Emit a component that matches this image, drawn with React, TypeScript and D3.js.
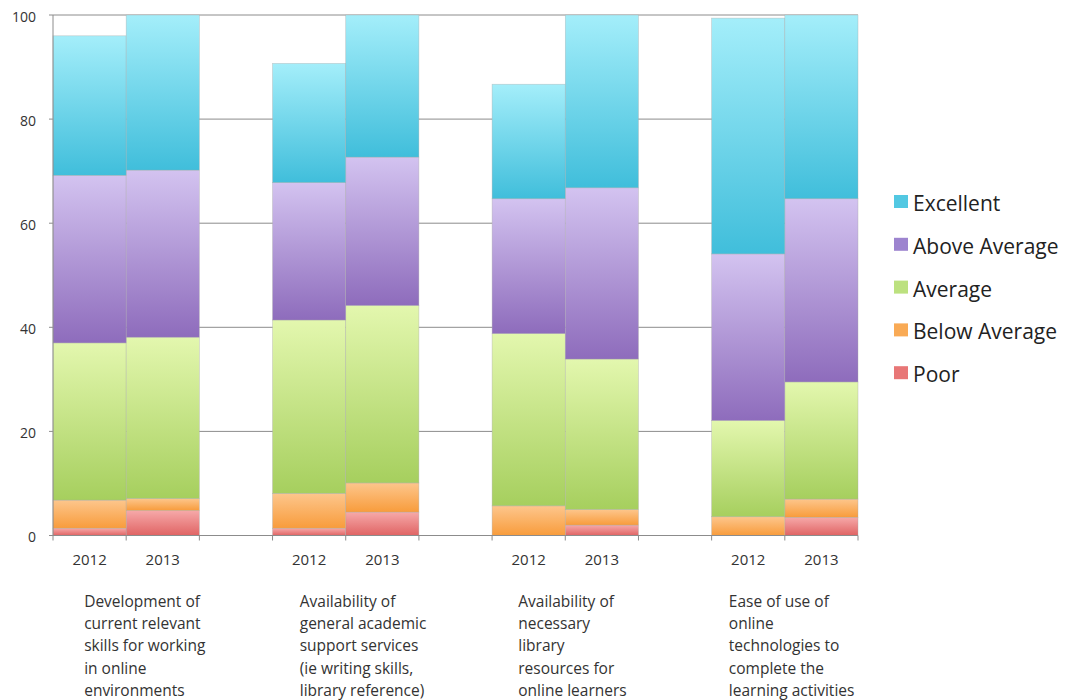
import React from 'react';
import * as d3 from 'd3';

const seriesNames = ['Poor', 'Below Average', 'Average', 'Above Average', 'Excellent'];
const years = ['2012', '2013'];
const groupLabels = [
  ['Development of', 'current relevant', 'skills for working', 'in online', 'environments'],
  ['Availability of', 'general academic', 'support services', '(ie writing skills,', 'library reference)'],
  ['Availability of', 'necessary', 'library', 'resources for', 'online learners'],
  ['Ease of use of', 'online', 'technologies to', 'complete the', 'learning activities'],
];
// bars in order: g1-2012, g1-2013, g2-2012, g2-2013, ...
const poor = [1.4, 4.8, 1.4, 4.5, 0, 2.0, 0, 3.5];
const belowAverage = [5.4, 2.3, 6.7, 5.6, 5.7, 3.0, 3.6, 3.5];
const average = [30.2, 31.0, 33.3, 34.1, 33.1, 28.9, 18.5, 22.5];
const aboveAverage = [32.2, 32.1, 26.4, 28.5, 25.9, 32.9, 32.0, 35.2];
const excellent = [26.8, 29.8, 22.9, 27.3, 22.0, 33.2, 45.3, 35.3];
const yTicks = [0, 20, 40, 60, 80, 100];

const gradTop: Record<string, string> = {
  'Poor': '#f6a9a9',
  'Below Average': '#fdc68c',
  'Average': '#e3f7ae',
  'Above Average': '#d3c3f0',
  'Excellent': '#a4eefa',
};
const gradBottom: Record<string, string> = {
  'Poor': '#e06464',
  'Below Average': '#f89c3c',
  'Average': '#a6cf5e',
  'Above Average': '#8e6cbc',
  'Excellent': '#40bedb',
};
const swatch: Record<string, string> = {
  'Poor': '#e87676',
  'Below Average': '#f9aa55',
  'Average': '#bce17f',
  'Above Average': '#9d84cf',
  'Excellent': '#52c8e2',
};

const FONT = "'Open Sans', sans-serif";
const labelOffsets = [42, 46, 47, 56];

export default function App() {
  const W = 1065, H = 700;
  const left = 53, right = 858, top = 15, bottom = 535.5;

  const slots: string[] = [];
  const barSlots: string[] = [];
  groupLabels.forEach((_, gi) => {
    years.forEach((yr) => { slots.push(`g${gi}-${yr}`); barSlots.push(`g${gi}-${yr}`); });
    if (gi < groupLabels.length - 1) slots.push(`gap${gi}`);
  });

  const x = d3.scaleBand<string>().domain(slots).range([left, right]).padding(0);
  const y = d3.scaleLinear().domain([0, 100]).range([bottom, top]);

  const rows = barSlots.map((slot, i) => ({
    slot,
    year: years[i % 2],
    'Poor': poor[i],
    'Below Average': belowAverage[i],
    'Average': average[i],
    'Above Average': aboveAverage[i],
    'Excellent': excellent[i],
  }));
  const stacked = d3.stack<any>().keys(seriesNames)(rows);

  const boundaries = slots.map((s) => x(s)!).concat([right]);
  const legendOrder = [...seriesNames].reverse();

  return (
    <div style={{ position: 'absolute', left: 0, top: 0 }}>
      <svg width={W} height={H} style={{ display: 'block', background: '#fff' }}>
        <defs>
          {seriesNames.map((s, i) => (
            <linearGradient key={s} id={`grad${i}`} x1="0" y1="0" x2="0" y2="1">
              <stop offset="0%" stopColor={gradTop[s]} />
              <stop offset="100%" stopColor={gradBottom[s]} />
            </linearGradient>
          ))}
        </defs>
        {/* gridlines */}
        {yTicks.map((t) => (
          <g key={t}>
            <line x1={left - 4} x2={right} y1={y(t)} y2={y(t)} stroke="#8c8c8c" strokeWidth={1} />
            <text x={36} y={y(t) + 6.5} textAnchor="end" fontFamily={FONT} fontSize={14} fill="#333">{t}</text>
          </g>
        ))}
        {/* bars */}
        {stacked.map((layer, si) => (
          <g key={layer.key} fill={`url(#grad${si})`}>
            {layer.map((d: any, bi: number) => {
              const h = y(d[0]) - y(d[1]);
              if (h <= 0.01) return null;
              return (
                <rect key={bi} x={x(d.data.slot)} y={y(d[1])} width={x.bandwidth()} height={h}
                  stroke="rgba(170,170,170,0.6)" strokeWidth={0.6} />
              );
            })}
          </g>
        ))}
        {/* axes */}
        <line x1={left} x2={left} y1={top} y2={bottom} stroke="#8c8c8c" strokeWidth={1} />
        <line x1={left} x2={right} y1={bottom} y2={bottom} stroke="#8c8c8c" strokeWidth={1} />
        {boundaries.map((bx, i) => (
          <line key={i} x1={bx} x2={bx} y1={bottom} y2={bottom + 5} stroke="#8c8c8c" strokeWidth={1} />
        ))}
        {/* year labels */}
        {rows.map((r) => (
          <text key={r.slot} x={x(r.slot)! + x.bandwidth() / 2} y={565} textAnchor="middle"
            fontFamily={FONT} fontSize={15} fill="#333">{r.year}</text>
        ))}
        {/* category labels */}
        {groupLabels.map((lines, gi) => {
          const cx = x(`g${gi}-2013`)!;
          return (
            <text key={gi} fontFamily={FONT} fontSize={15.5} fill="#333">
              {lines.map((ln, li) => (
                <tspan key={li} x={cx - labelOffsets[gi]} y={607 + li * 22.2}>{ln}</tspan>
              ))}
            </text>
          );
        })}
        {/* legend */}
        {legendOrder.map((s, i) => (
          <g key={s} transform={`translate(894, ${203 + i * 42.8})`}>
            <rect x={0} y={-8} width={14} height={13} fill={swatch[s]} />
            <text x={19} y={8} fontFamily={FONT} fontSize={21} fill="#222">{s}</text>
          </g>
        ))}
      </svg>
    </div>
  );
}
